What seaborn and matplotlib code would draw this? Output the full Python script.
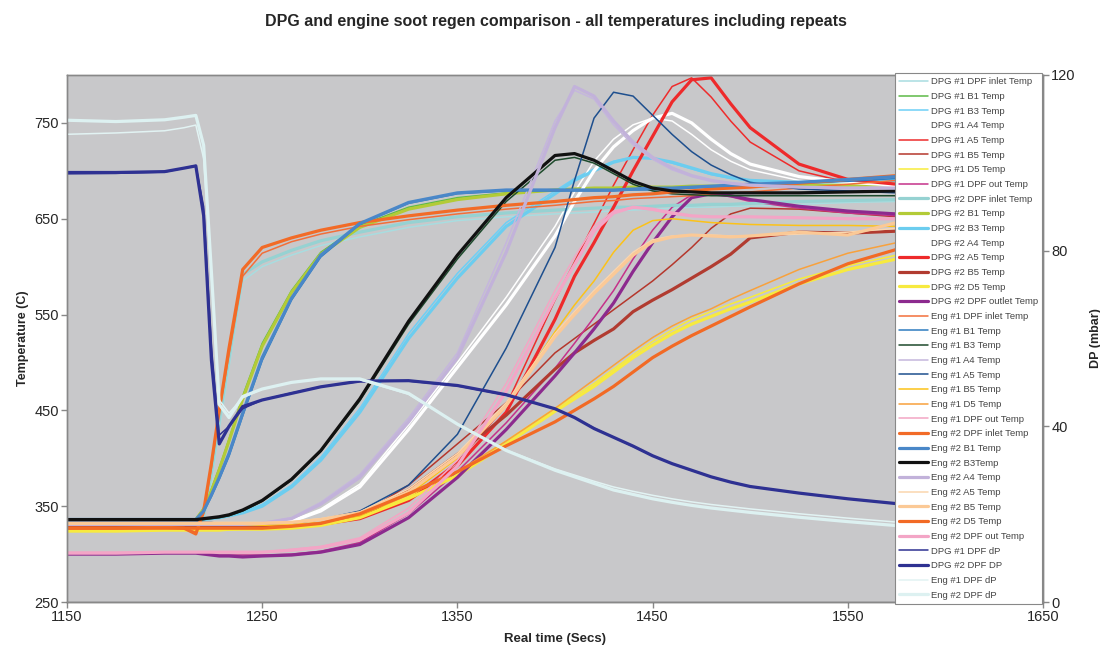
import matplotlib
matplotlib.use("Agg")
import matplotlib.pyplot as plt
import seaborn as sns

# time axis shared by all channels (secs)
t_sec = [1150, 1175, 1200, 1210, 1216, 1220, 1224, 1228, 1233, 1240,
         1250, 1265, 1280, 1300, 1325, 1350, 1375, 1400, 1410, 1420,
         1430, 1440, 1450, 1460, 1470, 1480, 1490, 1500, 1525, 1550,
         1575, 1600, 1625, 1650]

# --- DPG #1 temps (C)
dpg1_inlet = [329, 329, 329, 329, 329, 336, 375, 430, 495, 585,
              600, 612, 622, 631, 641, 648, 652, 655, 656, 657,
              658, 659, 660, 661, 662, 662, 663, 663, 665, 667,
              668, 669, 670, 671]
dpg1_b1 = [336, 336, 336, 336, 336, 348, 368, 390, 420, 465,
           520, 575, 615, 643, 662, 672, 677, 680, 681, 681,
           682, 682, 682, 683, 683, 683, 683, 684, 684, 685,
           685, 686, 686, 687]
dpg1_b3 = [336, 336, 336, 336, 336, 336, 337, 338, 340, 344,
           352, 372, 401, 452, 530, 593, 646, 679, 692, 702,
           710, 714, 713, 708, 702, 696, 692, 690, 688, 689,
           690, 691, 692, 693]
dpg1_a4 = [331, 331, 331, 331, 331, 331, 331, 331, 331, 331,
           331, 335, 347, 373, 435, 500, 568, 642, 678, 710,
           733, 748, 755, 752, 738, 722, 710, 701, 690, 686,
           684, 683, 683, 684]
dpg1_a5 = [329, 329, 329, 329, 329, 329, 329, 329, 329, 329,
           328, 329, 331, 338, 358, 396, 455, 565, 605, 645,
           685, 722, 758, 788, 797, 777, 752, 730, 700, 688,
           685, 685, 686, 687]
dpg1_b5 = [330, 330, 330, 330, 330, 330, 330, 330, 330, 330,
           329, 330, 332, 340, 372, 415, 458, 510, 525, 540,
           555, 570, 585, 602, 620, 640, 655, 661, 660, 656,
           652, 647, 643, 640]
dpg1_d5 = [325, 325, 325, 325, 325, 325, 325, 325, 325, 326,
           326, 328, 331, 339, 360, 385, 418, 452, 465, 478,
           493, 508, 522, 534, 545, 553, 561, 568, 587, 601,
           612, 620, 626, 632]
dpg1_out = [301, 301, 302, 302, 302, 301, 300, 299, 299, 299,
            299, 300, 303, 312, 342, 386, 437, 494, 520, 547,
            575, 608, 638, 662, 675, 676, 673, 668, 661, 656,
            653, 651, 650, 650]

# --- DPG #2 temps (C)
dpg2_inlet = [330, 330, 330, 330, 330, 340, 385, 440, 505, 592,
              605, 617, 627, 636, 646, 652, 656, 659, 660, 661,
              662, 662, 663, 664, 664, 665, 665, 666, 668, 669,
              670, 671, 672, 673]
dpg2_b1 = [336, 336, 336, 336, 336, 347, 366, 388, 418, 462,
           517, 573, 613, 641, 660, 670, 676, 680, 681, 682,
           682, 683, 683, 683, 684, 684, 684, 684, 685, 685,
           686, 686, 687, 687]
dpg2_b3 = [336, 336, 336, 336, 336, 336, 337, 338, 340, 343,
           350, 370, 398, 448, 525, 588, 642, 676, 690, 700,
           709, 714, 713, 709, 703, 697, 693, 690, 688, 689,
           690, 691, 692, 693]
dpg2_a4 = [331, 331, 331, 331, 331, 331, 331, 331, 331, 331,
           331, 334, 345, 370, 430, 495, 560, 632, 668, 700,
           725, 742, 755, 760, 750, 733, 718, 707, 694, 688,
           685, 684, 684, 685]
dpg2_a5 = [330, 330, 330, 330, 330, 330, 330, 330, 330, 330,
           328, 329, 331, 337, 356, 392, 448, 545, 590, 625,
           662, 700, 736, 772, 795, 797, 770, 745, 707, 691,
           686, 686, 687, 688]
dpg2_b5 = [330, 330, 330, 330, 330, 330, 330, 330, 330, 330,
           328, 329, 331, 338, 367, 404, 445, 493, 510, 523,
           535, 553, 565, 576, 588, 600, 613, 630, 636, 635,
           637, 638, 638, 638]
dpg2_d5 = [324, 324, 325, 325, 325, 325, 325, 325, 326, 326,
           326, 327, 330, 338, 358, 382, 415, 449, 462, 475,
           490, 505, 518, 530, 540, 548, 556, 563, 582, 597,
           608, 616, 622, 627]
dpg2_out = [300, 300, 301, 301, 301, 300, 299, 298, 298, 297,
            298, 299, 302, 310, 338, 380, 430, 486, 510, 535,
            562, 595, 625, 652, 672, 676, 674, 670, 663, 658,
            655, 652, 651, 650]

# --- Engine #1 temps (C)
eng1_inlet = [327, 327, 328, 327, 323, 342, 390, 448, 508, 590,
              614, 626, 634, 642, 649, 655, 660, 664, 666, 668,
              669, 671, 672, 673, 674, 676, 677, 678, 682, 686,
              690, 693, 696, 699]
eng1_b1 = [337, 337, 337, 337, 337, 344, 360, 378, 402, 444,
           502, 565, 610, 644, 666, 676, 679, 679, 679, 679,
           679, 680, 680, 681, 682, 683, 684, 685, 687, 689,
           692, 695, 697, 700]
eng1_b3 = [335, 335, 335, 335, 335, 336, 337, 338, 340, 345,
           355, 377, 407, 460, 540, 608, 668, 711, 714, 708,
           697, 686, 679, 676, 675, 674, 674, 674, 674, 674,
           674, 675, 675, 676]
eng1_a4 = [332, 332, 332, 332, 332, 332, 332, 332, 332, 332,
           333, 338, 354, 383, 442, 510, 625, 752, 784, 775,
           748, 727, 712, 701, 694, 689, 686, 684, 683, 682,
           682, 682, 683, 684]
eng1_a5 = [334, 334, 334, 334, 334, 333, 333, 332, 332, 331,
           331, 332, 336, 345, 372, 425, 515, 620, 690, 755,
           782, 778, 758, 738, 720, 706, 696, 688, 681, 679,
           677, 676, 675, 675]
eng1_b5 = [330, 330, 330, 330, 330, 330, 330, 330, 330, 330,
           330, 331, 333, 340, 362, 400, 455, 532, 560, 585,
           615, 638, 648, 650, 648, 646, 645, 644, 643, 643,
           642, 642, 642, 642]
eng1_d5 = [327, 327, 327, 327, 327, 327, 327, 327, 327, 327,
           327, 329, 333, 341, 362, 386, 418, 452, 467, 482,
           497, 512, 526, 538, 548, 556, 566, 575, 597, 614,
           625, 633, 639, 644]
eng1_out = [302, 302, 302, 302, 302, 302, 302, 302, 302, 302,
            302, 305, 308, 317, 348, 398, 478, 575, 610, 642,
            658, 662, 659, 655, 653, 652, 652, 652, 651, 650,
            650, 650, 651, 652]

# --- Engine #2 temps (C)
eng2_inlet = [327, 327, 328, 327, 321, 345, 395, 450, 515, 597,
              620, 630, 638, 646, 653, 659, 664, 668, 670, 672,
              673, 675, 676, 678, 679, 681, 682, 683, 687, 691,
              695, 698, 701, 704]
eng2_b1 = [336, 336, 336, 336, 336, 345, 362, 380, 405, 447,
           505, 567, 612, 645, 667, 677, 680, 680, 680, 680,
           680, 681, 682, 682, 683, 684, 685, 686, 688, 691,
           694, 697, 700, 703]
eng2_b3 = [336, 336, 336, 336, 336, 337, 338, 339, 341, 346,
           356, 378, 408, 462, 543, 612, 672, 716, 718, 711,
           700, 689, 682, 679, 678, 677, 677, 677, 677, 678,
           679, 680, 681, 683]
eng2_a4 = [331, 331, 331, 331, 331, 331, 331, 331, 331, 331,
           332, 337, 352, 380, 438, 505, 615, 745, 788, 778,
           752, 730, 714, 703, 695, 690, 687, 685, 683, 682,
           682, 682, 683, 684]
eng2_a5 = [333, 333, 333, 333, 333, 333, 333, 333, 333, 333,
           333, 334, 337, 344, 368, 405, 458, 530, 553, 575,
           595, 615, 628, 632, 633, 633, 632, 632, 634, 636,
           640, 643, 645, 647]
eng2_b5 = [332, 332, 332, 332, 332, 332, 332, 332, 332, 332,
           332, 333, 336, 343, 365, 402, 455, 527, 550, 572,
           592, 612, 626, 631, 633, 632, 631, 632, 636, 633,
           646, 647, 648, 650]
eng2_d5 = [327, 327, 327, 327, 327, 327, 327, 327, 327, 327,
           327, 329, 332, 342, 363, 386, 413, 438, 450, 462,
           475, 490, 505, 517, 528, 538, 548, 558, 582, 603,
           618, 629, 636, 641]
eng2_out = [301, 301, 302, 302, 302, 302, 302, 302, 302, 302,
            302, 304, 307, 315, 343, 392, 470, 567, 602, 637,
            656, 662, 660, 656, 653, 652, 652, 652, 651, 650,
            650, 650, 651, 652]

# --- DPF pressure drop (mbar), right axis
dpg1_dp = [97.5, 97.6, 97.9, 98.8, 99.4, 90, 58, 38, 40, 44,
           46, 47.6, 49, 50.2, 50.3, 49.2, 47.1, 44, 42, 39.6,
           37.5, 35.4, 33.3, 31.5, 30, 28.5, 27.3, 26.3, 24.8, 23.5,
           22.4, 21.4, 20.4, 19.6]
dpg2_dp = [97.8, 97.8, 98.0, 98.8, 99.3, 88, 55, 36, 40, 44.5,
           46, 47.5, 49, 50.3, 50.4, 49.3, 47.2, 44, 42, 39.5,
           37.5, 35.5, 33.3, 31.5, 30, 28.5, 27.3, 26.3, 24.8, 23.5,
           22.4, 21.4, 20.4, 19.5]
eng1_dp = [106.5, 106.8, 107.3, 108.0, 108.6, 101, 74, 46, 43, 46.5,
           48.5, 50, 50.8, 50.6, 47.3, 40.5, 34.6, 30.3, 28.9, 27.5,
           26.2, 25.2, 24.3, 23.5, 22.8, 22.2, 21.7, 21.2, 20.1, 19.1,
           18.2, 17.5, 16.8, 16.2]
eng2_dp = [109.7, 109.4, 109.8, 110.4, 110.8, 104, 75, 45, 42, 46.8,
           48.5, 50, 50.8, 50.8, 47.5, 40.5, 34.5, 30, 28.5, 27,
           25.5, 24.5, 23.5, 22.7, 22, 21.4, 20.9, 20.4, 19.3, 18.3,
           17.4, 16.7, 16, 15.5]

THIN, THICK = 1.1, 2.3

# label, data, colour, width, right axis?
series = [
    ("DPG #1 DPF inlet Temp", dpg1_inlet, "#a8dde0", THIN, False),
    ("DPG #1 B1 Temp", dpg1_b1, "#5db946", THIN, False),
    ("DPG #1 B3 Temp", dpg1_b3, "#6dcff6", THIN, False),
    ("DPG #1 A4 Temp", dpg1_a4, "#ffffff", THIN, False),
    ("DPG #1 A5 Temp", dpg1_a5, "#ee2c2c", THIN, False),
    ("DPG #1 B5 Temp", dpg1_b5, "#b5372c", THIN, False),
    ("DPG #1 D5 Temp", dpg1_d5, "#f8ec3b", THIN, False),
    ("DPG #1 DPF out Temp", dpg1_out, "#c5318a", THIN, False),
    ("DPG #2 DPF inlet Temp", dpg2_inlet, "#96d2d2", THICK, False),
    ("DPG #2 B1 Temp", dpg2_b1, "#b3cb37", THICK, False),
    ("DPG #2 B3 Temp", dpg2_b3, "#6ccdef", THICK, False),
    ("DPG #2 A4 Temp", dpg2_a4, "#ffffff", THICK, False),
    ("DPG #2 A5 Temp", dpg2_a5, "#ee2a2b", THICK, False),
    ("DPG #2 B5 Temp", dpg2_b5, "#b13b30", THICK, False),
    ("DPG #2 D5 Temp", dpg2_d5, "#f7ea3f", THICK, False),
    ("DPG #2 DPF outlet Temp", dpg2_out, "#8c2a8e", THICK, False),
    ("Eng #1 DPF inlet Temp", eng1_inlet, "#f26f3a", THIN, False),
    ("Eng #1 B1 Temp", eng1_b1, "#2e7cc0", THIN, False),
    ("Eng #1 B3 Temp", eng1_b3, "#1e4a2c", THIN, False),
    ("Eng #1 A4 Temp", eng1_a4, "#c5b6dd", THIN, False),
    ("Eng #1 A5 Temp", eng1_a5, "#1e4f8e", THIN, False),
    ("Eng #1 B5 Temp", eng1_b5, "#fcc218", THIN, False),
    ("Eng #1 D5 Temp", eng1_d5, "#f8a13c", THIN, False),
    ("Eng #1 DPF out Temp", eng1_out, "#f3a6c4", THIN, False),
    ("Eng #2 DPF inlet Temp", eng2_inlet, "#f26b27", THICK, False),
    ("Eng #2 B1 Temp", eng2_b1, "#4a87c8", THICK, False),
    ("Eng #2 B3Temp", eng2_b3, "#111111", THICK, False),
    ("Eng #2 A4 Temp", eng2_a4, "#c2b2da", THICK, False),
    ("Eng #2 A5 Temp", eng2_a5, "#fbd6ae", THIN, False),
    ("Eng #2 B5 Temp", eng2_b5, "#fbc996", THICK, False),
    ("Eng #2 D5 Temp", eng2_d5, "#f26a25", THICK, False),
    ("Eng #2 DPF out Temp", eng2_out, "#f3a5c6", THICK, False),
    ("DPG #1 DPF dP", dpg1_dp, "#2e3192", THIN, True),
    ("DPG #2 DPF DP", dpg2_dp, "#2e3192", THICK, True),
    ("Eng #1 DPF dP", eng1_dp, "#e2f3f3", THIN, True),
    ("Eng #2 DPF dP", eng2_dp, "#ddf1f1", THICK, True),
]

sns.set_style("ticks")
plt.rcParams["font.family"] = ["Liberation Sans", "DejaVu Sans"]

fig = plt.figure(figsize=(11, 6.59), dpi=100)
ax = fig.add_axes([67 / 1100, 57 / 659, 976 / 1100, 527 / 659])
ax2 = ax.twinx()
ax.set_facecolor("#c8c8ca")

for name, vals, col, lw, right in series:
    sns.lineplot(x=t_sec, y=vals, ax=ax2 if right else ax, color=col,
                 linewidth=lw, label=name, legend=False)

ax.set_xlim(1150, 1650)
ax.set_ylim(250, 800)
ax2.set_ylim(0, 120)
ax.set_xticks(range(1150, 1651, 100))
ax.set_yticks(range(250, 751, 100))
ax2.set_yticks([0, 40, 80, 120])

for a in (ax, ax2):
    for sp in a.spines.values():
        sp.set_color("#888888")
        sp.set_linewidth(1)
    a.tick_params(direction="out", length=4, width=1, color="#888888",
                  labelsize=10.5, pad=2)
ax.spines["bottom"].set_color("#555555")

ax.set_xlabel("Real time (Secs)", fontsize=9.5, fontweight="bold", labelpad=6)
ax.set_ylabel("Temperature (C)", fontsize=9, fontweight="bold", labelpad=4)
ax2.set_ylabel("DP (mbar)", fontsize=9, fontweight="bold", labelpad=10)
fig.text(0.505, 0.967, "DPG and engine soot regen comparison - all temperatures including repeats",
         ha="center", va="center", fontsize=11.5, fontweight="bold")

h1, l1 = ax.get_legend_handles_labels()
h2, l2 = ax2.get_legend_handles_labels()
leg = ax2.legend(h1 + h2, l1 + l2, loc="upper left",
                 bbox_to_anchor=(895 / 1100, 1 - 73 / 659),
                 bbox_transform=fig.transFigure, fontsize=6.8,
                 handlelength=3.0, handletextpad=0.35, labelspacing=0.6,
                 borderpad=0.45, borderaxespad=0, fancybox=False,
                 framealpha=1, edgecolor="#888888")
leg.get_frame().set_linewidth(0.8)
for txt in leg.get_texts():
    txt.set_color("#444444")

fig.savefig("out.png", dpi=100)
